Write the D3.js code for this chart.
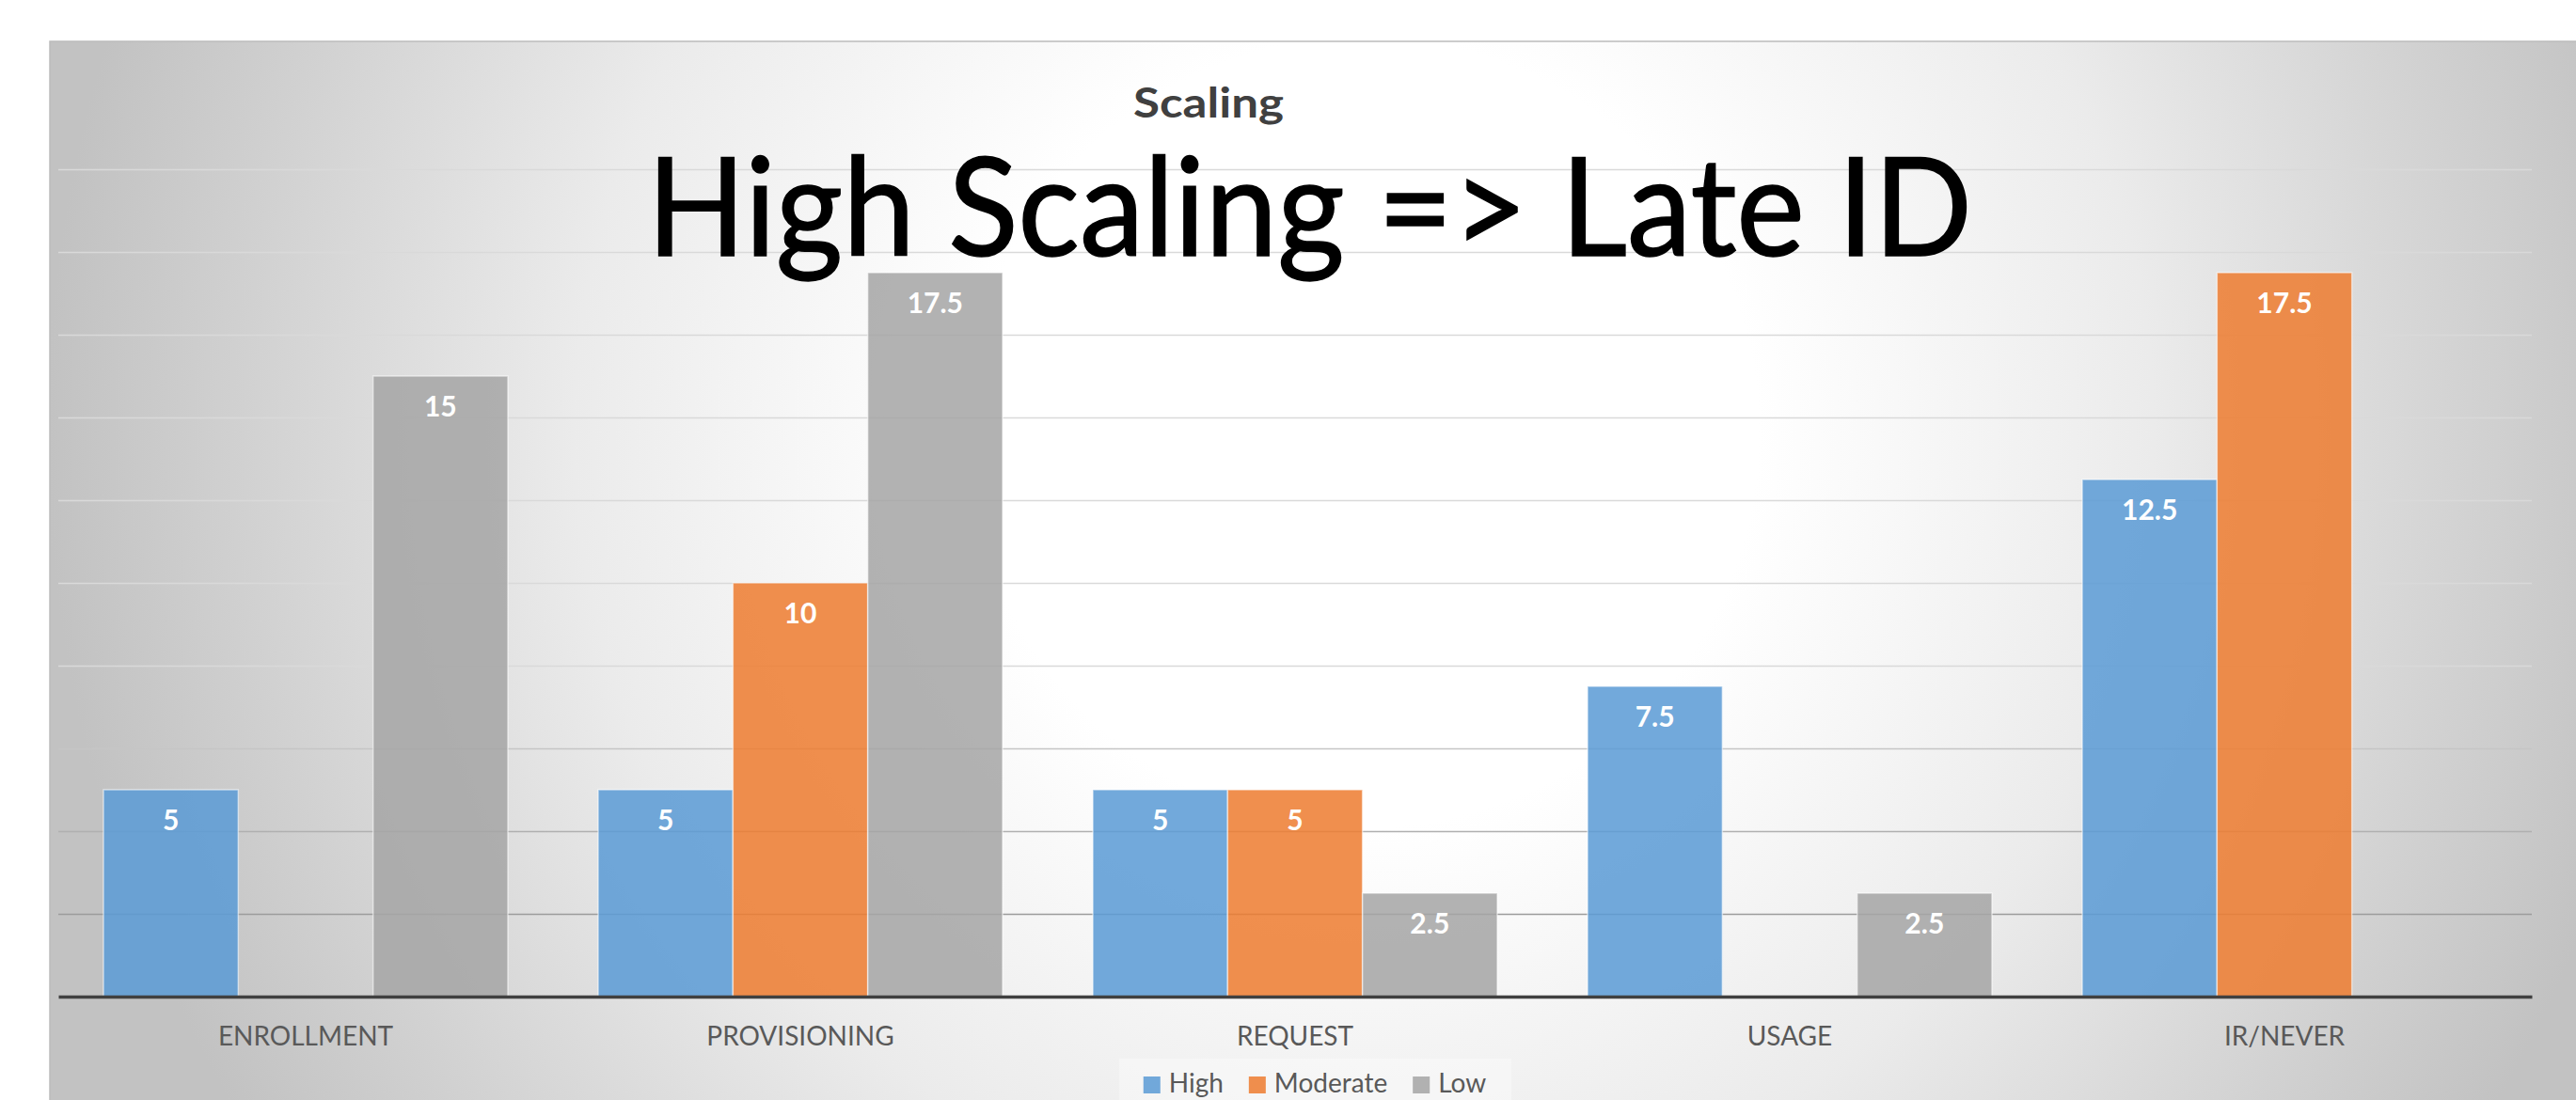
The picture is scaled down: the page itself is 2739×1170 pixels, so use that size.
<!DOCTYPE html>
<html>
<head>
<meta charset="utf-8">
<script src="https://cdn.jsdelivr.net/npm/d3@7"></script>
<style>
body{margin:0;background:#fff;overflow:hidden;}
svg{display:block;}
</style>
</head>
<body>
<svg id="chart"></svg>
<script>
let _width = 2739
let _height = 1170

// data
let categories = ['ENROLLMENT','PROVISIONING','REQUEST','USAGE','IR/NEVER']
let series = ['High','Moderate','Low']
let high = [5,5,5,7.5,12.5]
let moderate = [0,10,5,0,17.5]
let low = [15,17.5,2.5,2.5,0]
let y_ticks = [2,4,6,8,10,12,14,16,18,20]

let cols = ['#5b9bd5','#ed7d31','#a5a5a5']
let font = 'Lato, "Open Sans", sans-serif'

// plot box
let _left = 62
let _right = 2692
let _top = 180
let _bottom = 1060

const svg = d3.select('#chart')
	.attr('width', _width)
	.attr('height', _height)
	.attr('font-family', font)

// background gradient
const defs = svg.append('defs')
const grad = defs.append('radialGradient')
	.attr('id','bg')
	.attr('gradientUnits','userSpaceOnUse')
	.attr('cx',1450).attr('cy',460).attr('r',1400)
grad.selectAll('stop')
	.data([[0,'#ffffff'],[0.3,'#ffffff'],[0.6,'#ebebeb'],[0.85,'#d1d1d1'],[1,'#c2c2c2']])
	.enter().append('stop')
	.attr('offset',d=>d[0])
	.attr('stop-color',d=>d[1])

svg.append('rect')
	.attr('x',53).attr('y',44)
	.attr('width',_width - 53 + 2).attr('height',_height - 44 + 2)
	.attr('fill','url(#bg)')
	.attr('stroke','#bcbcbc')
	.attr('stroke-width',1.5)

// scales
const x = d3.scaleBand()
	.domain(categories)
	.range([_left,_right])
	.paddingInner(0.1825)
	.paddingOuter(0.09125)

const x1 = d3.scaleBand()
	.domain(series)
	.range([0, x.bandwidth()])

const y = d3.scaleLinear()
	.domain([0,20])
	.range([_bottom,_top])

const color = d3.scaleOrdinal()
	.domain(series)
	.range(cols)

// gridlines get darker toward the bottom
const gridCol = d3.scaleLinear()
	.domain([2,8])
	.range(['#9c9c9c','#d9d9d9'])
	.clamp(true)

const grid = svg.append('g')
	.attr('transform',`translate(${_left},0)`)
	.call(d3.axisLeft(y).tickValues(y_ticks).tickSize(-(_right-_left)).tickFormat(''))
grid.select('.domain').remove()
grid.selectAll('.tick line')
	.attr('stroke',d=>gridCol(d))
	.attr('stroke-width',1.6)

// bars
const rows = categories.map((c,i)=>({cat:c, vals:[high[i],moderate[i],low[i]]}))

const groups = svg.selectAll('.grp')
	.data(rows)
	.enter()
	.append('g')
	.classed('grp',true)
	.attr('transform',d=>`translate(${x(d.cat)},0)`)

const bars = groups.selectAll('.bar')
	.data(d=>d.vals.map((v,j)=>({s:series[j], v:v})).filter(e=>e.v > 0))
	.enter()

bars.append('rect')
	.classed('bar',true)
	.attr('x',d=>x1(d.s))
	.attr('y',d=>y(d.v))
	.attr('width',x1.bandwidth())
	.attr('height',d=>_bottom - y(d.v))
	.attr('fill',d=>color(d.s))
	.attr('fill-opacity',0.86)
	.attr('stroke','#ffffff')
	.attr('stroke-opacity',0.55)
	.attr('stroke-width',1.5)

bars.append('text')
	.attr('x',d=>x1(d.s) + x1.bandwidth()/2)
	.attr('y',d=>y(d.v) + 43)
	.attr('text-anchor','middle')
	.attr('font-size',30)
	.attr('font-weight','bold')
	.attr('fill','#ffffff')
	.text(d=>d.v)

// x axis
const xAxis = svg.append('g')
	.attr('transform',`translate(0,${_bottom})`)
	.call(d3.axisBottom(x).tickSize(0).tickSizeOuter(0))
xAxis.select('.domain')
	.attr('stroke','#404040')
	.attr('stroke-width',3.5)
xAxis.selectAll('.tick text')
	.attr('y',52)
	.attr('dy',0)
	.attr('font-family',font)
	.attr('font-size',28)
	.attr('fill','#595959')

// titles
svg.append('text')
	.attr('x',1205)
	.attr('y',125)
	.attr('font-size',43)
	.attr('font-weight','bold')
	.attr('fill','#404040')
	.attr('textLength',160)
	.attr('lengthAdjust','spacingAndGlyphs')
	.text('Scaling')

svg.append('text')
	.attr('x',688)
	.attr('y',272)
	.attr('font-size',146)
	.attr('fill','#000000')
	.attr('stroke','#000000')
	.attr('stroke-width',1.5)
	.attr('textLength',1409)
	.attr('lengthAdjust','spacingAndGlyphs')
	.text('High Scaling => Late ID')

// legend
const legend = svg.append('g')
legend.append('rect')
	.attr('x',1190).attr('y',1126)
	.attr('width',417).attr('height',60)
	.attr('fill','#ffffff')
	.attr('fill-opacity',0.35)

const legendG = legend.selectAll('.legend')
	.data(series)
	.enter()
	.append('g')
	.classed('legend',true)

legendG.append('rect')
	.attr('width',18)
	.attr('height',18)
	.attr('y',1145)
	.attr('fill',d=>color(d))
	.attr('fill-opacity',0.86)

legendG.append('text')
	.attr('y',1162)
	.attr('font-size',28)
	.attr('fill','#595959')
	.text(d=>d)

// lay legend items side by side, centred under the plot
let widths = []
legendG.selectAll('text').each(function(){ widths.push(this.getComputedTextLength()) })
let total = d3.sum(widths.map(w=>18 + 9 + w)) + 27 * (series.length - 1)
let cx = 1398 - total/2
legendG.each(function(d,i){
	const g = d3.select(this)
	g.select('rect').attr('x',cx)
	g.select('text').attr('x',cx + 27)
	cx += 18 + 9 + widths[i] + 27
})
</script>
</body>
</html>
